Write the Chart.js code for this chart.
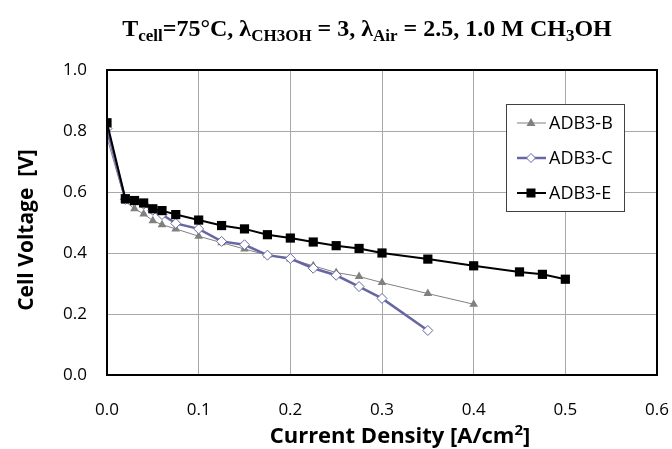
<!DOCTYPE html>
<html lang="en">
<head>
<meta charset="UTF-8">
<title>Cell voltage vs current density</title>
<style>
  html, body { margin: 0; padding: 0; background: #fff; }
</style>
</head>
<body>
<canvas id="myChart" width="672" height="449"></canvas>

<script src="https://cdn.jsdelivr.net/npm/chart.js@4/dist/chart.umd.min.js"></script>
<script>
// current density [A/cm2] and cell voltage [V] for each MEA
var seriesNames = ['ADB3-B', 'ADB3-C', 'ADB3-E'];

var xB = [0, 0.02, 0.03, 0.04, 0.05, 0.06, 0.075, 0.1, 0.125, 0.15, 0.175, 0.2, 0.225, 0.25, 0.275, 0.3, 0.35, 0.4];
var yB = [0.778, 0.569, 0.545, 0.528, 0.506, 0.493, 0.479, 0.455, 0.434, 0.413, 0.393, 0.380, 0.358, 0.336, 0.323, 0.303, 0.267, 0.232];

var xC = [0, 0.02, 0.03, 0.04, 0.05, 0.06, 0.075, 0.1, 0.125, 0.15, 0.175, 0.2, 0.225, 0.25, 0.275, 0.3, 0.35];
var yC = [0.808, 0.576, 0.570, 0.560, 0.540, 0.526, 0.497, 0.479, 0.438, 0.427, 0.393, 0.382, 0.350, 0.327, 0.290, 0.251, 0.146];

var xE = [0, 0.02, 0.03, 0.04, 0.05, 0.06, 0.075, 0.1, 0.125, 0.15, 0.175, 0.2, 0.225, 0.25, 0.275, 0.3, 0.35, 0.4, 0.45, 0.475, 0.5];
var yE = [0.827, 0.578, 0.572, 0.564, 0.545, 0.539, 0.526, 0.508, 0.490, 0.479, 0.460, 0.449, 0.436, 0.424, 0.415, 0.400, 0.380, 0.358, 0.338, 0.330, 0.314];

var xTicks = [0, 0.1, 0.2, 0.3, 0.4, 0.5, 0.6];
var yTicks = [0, 0.2, 0.4, 0.6, 0.8, 1.0];

function f_pts(xs, ys) {
    var out = [];
    for (var i = 0; i < xs.length; i++) out.push({x: xs[i], y: ys[i]});
    return out;
}

var labelFont = "'Open Sans', 'Liberation Sans', sans-serif";
var blueC = '#6666a3';

// draws a run of [text, shift] pieces centred on cx
function f_runText(ctx, parts, cx, base, bigFont, smallFont) {
    var total = 0;
    parts.forEach(function (p) {
        ctx.font = p[1] ? smallFont : bigFont;
        total += ctx.measureText(p[0]).width;
    });
    var x = cx - total / 2;
    ctx.textBaseline = 'alphabetic';
    ctx.textAlign = 'left';
    parts.forEach(function (p) {
        ctx.font = p[1] ? smallFont : bigFont;
        ctx.fillText(p[0], x, base + p[1]);
        x += ctx.measureText(p[0]).width;
    });
}

// plot frame + axis titles
var framePlugin = {
    id: 'frame',
    afterDraw: function (chart) {
        var a = chart.chartArea, ctx = chart.ctx;
        ctx.save();
        ctx.strokeStyle = '#000';
        ctx.lineWidth = 2;
        ctx.strokeRect(a.left, a.top, a.right - a.left, a.bottom - a.top);
        ctx.fillStyle = '#000';
        // x title
        f_runText(ctx, [['Current Density [A/cm', 0], ['2', -8], [']', 0]], 400, 443,
            'bold 22px ' + labelFont, 'bold 15px ' + labelFont);
        // y title
        ctx.translate(27, 230);
        ctx.rotate(-Math.PI / 2);
        ctx.font = 'bold 21px ' + labelFont;
        ctx.textAlign = 'center';
        ctx.textBaseline = 'middle';
        ctx.fillText('Cell Voltage  [V]', 0, 0);
        ctx.restore();
    }
};

// title with subscripts
var titlePlugin = {
    id: 'subTitle',
    afterDraw: function (chart) {
        var ctx = chart.ctx;
        var parts = [
            ['T', 0], ['cell', 5], ['=75\u00B0C, \u03BB', 0], ['CH3OH', 5],
            [' = 3, \u03BB', 0], ['Air', 5], [' = 2.5, 1.0 M CH', 0], ['3', 5], ['OH', 0]
        ];
        ctx.save();
        ctx.fillStyle = '#000';
        f_runText(ctx, parts, 367, 36,
            "bold 24px 'Liberation Serif', 'Times New Roman', serif",
            "bold 17px 'Liberation Serif', 'Times New Roman', serif");
        ctx.restore();
    }
};

// legend box inside the plot
var legendPlugin = {
    id: 'boxLegend',
    afterDraw: function (chart) {
        var ctx = chart.ctx;
        var bx = 506, by = 104, bw = 118, bh = 107;
        ctx.save();
        ctx.fillStyle = '#fff';
        ctx.fillRect(bx, by, bw, bh);
        ctx.strokeStyle = '#404040';
        ctx.lineWidth = 1;
        ctx.strokeRect(bx + 0.5, by + 0.5, bw, bh);
        var rows = [123, 158, 193];
        chart.data.datasets.forEach(function (ds, i) {
            var y = rows[i];
            var cx = 531;
            ctx.strokeStyle = ds.borderColor;
            ctx.lineWidth = ds.borderWidth;
            ctx.beginPath();
            ctx.moveTo(517, y);
            ctx.lineTo(546, y);
            ctx.stroke();
            ctx.fillStyle = ds.pointBackgroundColor;
            ctx.strokeStyle = ds.pointBorderColor;
            ctx.lineWidth = 1;
            ctx.beginPath();
            if (ds.pointStyle === 'triangle') {
                ctx.moveTo(cx, y - 5);
                ctx.lineTo(cx + 4.5, y + 3);
                ctx.lineTo(cx - 4.5, y + 3);
                ctx.closePath();
                ctx.fill();
            } else if (ds.pointStyle === 'rectRot') {
                ctx.moveTo(cx, y - 4.5);
                ctx.lineTo(cx + 4.5, y);
                ctx.lineTo(cx, y + 4.5);
                ctx.lineTo(cx - 4.5, y);
                ctx.closePath();
                ctx.fill();
                ctx.stroke();
            } else {
                ctx.rect(cx - 4.5, y - 4.5, 9, 9);
                ctx.fill();
            }
            ctx.fillStyle = '#000';
            ctx.font = '18px ' + labelFont;
            ctx.textBaseline = 'middle';
            ctx.fillText(ds.label, 549, y + 1);
        });
        ctx.restore();
    }
};

const ctx = document.getElementById('myChart').getContext('2d');
const myChart = new Chart(ctx, {
    type: 'line',
    data: {
        datasets: [{
            label: seriesNames[0],
            data: f_pts(xB, yB),
            borderColor: '#808080',
            borderWidth: 1,
            pointStyle: 'triangle',
            pointRadius: 5,
            pointBackgroundColor: '#808080',
            pointBorderColor: '#808080',
            pointBorderWidth: 0,
            order: 3
        }, {
            label: seriesNames[1],
            data: f_pts(xC, yC),
            borderColor: blueC,
            borderWidth: 2.5,
            pointStyle: 'rectRot',
            pointRadius: 5,
            pointBackgroundColor: '#fff',
            pointBorderColor: blueC,
            pointBorderWidth: 1,
            order: 2
        }, {
            label: seriesNames[2],
            data: f_pts(xE, yE),
            borderColor: '#000',
            borderWidth: 2,
            pointStyle: 'rect',
            pointRadius: 6.5,
            pointBackgroundColor: '#000',
            pointBorderColor: '#000',
            pointBorderWidth: 0,
            order: 1
        }]
    },
    options: {
        responsive: false,
        animation: false,
        devicePixelRatio: 1,
        layout: { padding: { top: 70, right: 15, left: 0, bottom: 0 } },
        plugins: {
            legend: { display: false },
            title: { display: false },
            tooltip: { enabled: false }
        },
        scales: {
            x: {
                type: 'linear',
                min: 0, max: 0.6,
                afterBuildTicks: function (s) { s.ticks = xTicks.map(function (v) { return {value: v}; }); },
                afterFit: function (s) { s.height = 74; s.paddingLeft = 0; s.paddingRight = 0; },
                border: { display: false },
                grid: { color: '#a8a8a8', lineWidth: 1, drawTicks: false },
                ticks: {
                    padding: 25,
                    maxRotation: 0,
                    color: '#000',
                    font: { size: 17, family: labelFont },
                    callback: function (v) { return v.toFixed(1); }
                },
                title: { display: false }
            },
            y: {
                min: 0, max: 1,
                afterBuildTicks: function (s) { s.ticks = yTicks.map(function (v) { return {value: v}; }); },
                afterFit: function (s) { s.width = 107; s.paddingTop = 0; s.paddingBottom = 0; },
                border: { display: false },
                grid: { color: '#a8a8a8', lineWidth: 1, drawTicks: false },
                ticks: {
                    padding: 20,
                    color: '#000',
                    font: { size: 17, family: labelFont },
                    callback: function (v) { return v.toFixed(1); }
                },
                title: { display: false }
            }
        }
    },
    plugins: [framePlugin, titlePlugin, legendPlugin]
});
</script>
</body>
</html>
